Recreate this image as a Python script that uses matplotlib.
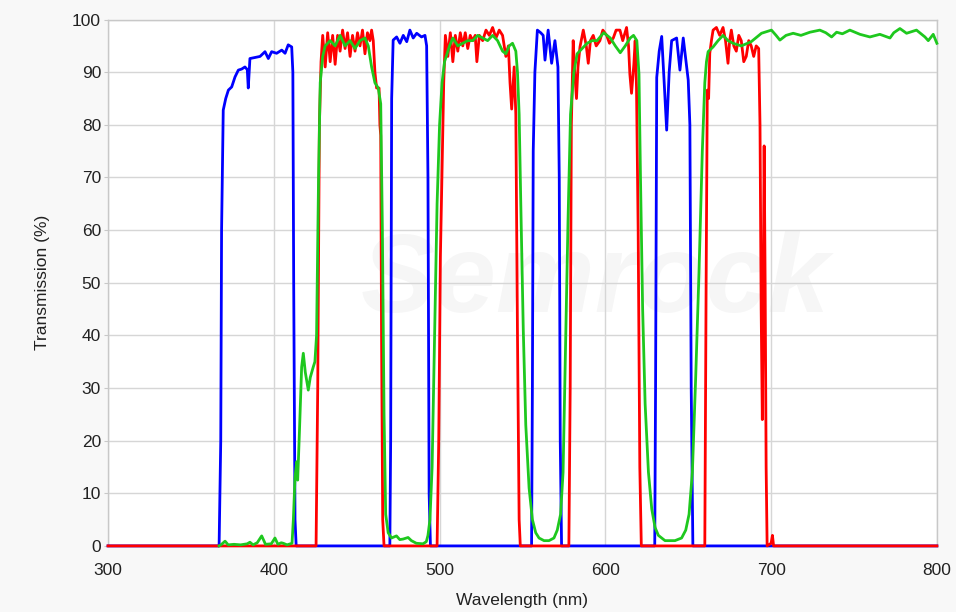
#!/usr/bin/env python3
"""
Filter transmission spectra (three multiband filters)
blue / red / green curves, 300-800 nm
"""

import numpy as np
import matplotlib
matplotlib.use('Agg')
import matplotlib.pyplot as plt

plt.rcParams['font.family'] = ['Liberation Sans', 'DejaVu Sans']

# --- data: (wavelength nm, transmission %) ---
blue_pts = [
    (300, 0), (367, 0), (368, 20), (368.5, 60), (369.5, 82.8), (371, 85), (372.6, 86.6),
    (374.6, 87.2), (376.6, 89.1), (378.6, 90.4), (380.6, 90.6), (382.6, 91), (384, 90.5),
    (384.6, 87), (385.6, 92.6), (388.7, 92.8), (391.7, 93), (394.7, 93.9), (396.7, 92.6),
    (398.7, 93.9), (401.7, 93.6), (404.8, 94.2), (406.8, 93.6), (408.7, 95.2), (410.8, 94.8),
    (411.5, 90), (412, 50), (412.8, 5), (413.5, 0),
    (470, 0), (470.5, 20), (471.1, 85), (472, 96.1), (474.1, 96.7), (476.1, 95.5), (478.1, 97),
    (480.2, 95.8), (482.1, 98), (484.1, 96.5), (486.2, 97.4), (489.1, 96.7), (491.2, 97),
    (492.2, 95), (493, 70), (493.7, 10), (494.5, 0),
    (555.5, 0), (556, 30), (556.5, 75), (557.5, 90), (559, 98), (561, 97.5), (562.5, 97),
    (563.6, 92.3), (565.5, 98), (567.6, 91.7), (569.6, 96), (571.4, 91), (572.2, 70),
    (572.8, 20), (573.6, 0),
    (629.8, 0), (630.3, 30), (631, 89), (632.5, 94), (634, 96.8), (635.5, 88), (637, 79),
    (638.5, 90), (640, 96), (643, 96.5), (645, 90.4), (647, 96.5), (650, 88.5), (651, 80),
    (651.8, 30), (652.8, 0), (800, 0),
]

red_pts = [
    (300, 0), (425.5, 0), (426.5, 30), (427.5, 80), (428.5, 92), (429.5, 97), (431, 91),
    (432.5, 97.5), (434, 92), (435.5, 97), (437, 91.5), (438.5, 97), (440, 94), (441.5, 98),
    (443, 94.5), (444.5, 97.5), (446, 93), (447.5, 97), (449, 94), (450.5, 97.5), (452, 95),
    (453.5, 98), (455, 93.5), (456.5, 97.5), (458, 96), (459, 98), (460, 96), (461, 90),
    (462, 87), (463.5, 87), (464, 80), (464.5, 78), (465, 40), (465.7, 5), (466.5, 0),
    (498.5, 0), (499.5, 20), (500.5, 55), (501.5, 72), (502.5, 88), (503.5, 97), (505, 93),
    (506.5, 97.5), (508, 92), (509.5, 97), (511, 94), (512.5, 97.5), (514, 95), (515.5, 97.5),
    (517, 94.5), (518.5, 97), (520, 96), (521.5, 97), (522.5, 92), (524, 97), (526, 96),
    (528, 98), (530, 97), (532, 98.5), (534, 96.5), (536, 98), (538, 97), (540, 93),
    (541.5, 95), (542.5, 88), (543.5, 83), (545, 91), (546, 82), (547, 40), (548, 5), (548.7, 0),
    (578, 0), (578.8, 30), (579.5, 80), (580.6, 96), (581.5, 90), (582.6, 85), (583.5, 91),
    (584.7, 94.8), (586.7, 98), (588.5, 95), (589.7, 91.7), (591, 96), (592.7, 97),
    (594.5, 95), (596.7, 96), (598.5, 98), (600.8, 97), (602.5, 95.5), (604.8, 96.5),
    (606.5, 98), (608.8, 98), (610.5, 96), (612.8, 98.5), (614, 95), (614.8, 89.6),
    (615.8, 86), (617.2, 91.5), (618, 96), (618.8, 87), (619.8, 60), (620.8, 15), (621.7, 0),
    (660, 0), (660.8, 50), (661.5, 86.6), (662.3, 85), (663, 93.6), (664, 96), (665, 98),
    (667, 98.5), (669, 97), (671, 98.5), (672.5, 96), (674, 91.7), (675, 96), (676, 98),
    (677.5, 95), (679, 94), (680.5, 97), (682, 96), (683.5, 92), (685, 93), (686.5, 96),
    (688, 95), (689.5, 93), (691, 95), (692.5, 94.5), (693.3, 80), (694, 45), (694.7, 24),
    (695.2, 45), (695.8, 76), (696.4, 50), (697, 15), (697.6, 0), (700, 0.5), (700.8, 2),
    (701.5, 0), (800, 0),
]

green_pts = [
    (367, 0), (368.5, 0.3), (370.6, 0.9), (372.5, 0.2), (376, 0.3), (380, 0.2), (384, 0.4),
    (385.6, 0.7), (387.5, 0.2), (390, 0.6), (392.7, 1.9), (395, 0.3), (398.5, 0.4),
    (400.7, 1.5), (402.5, 0.3), (404.5, 0.6), (405.7, 0.5), (408, 0.2), (411, 0.5),
    (411.8, 5), (412.8, 13), (413.8, 16), (414.4, 12.5), (415.5, 22), (416.8, 34),
    (417.8, 36.6), (419, 33), (420.8, 29.6), (422, 32), (423.8, 34), (424.8, 35), (425.8, 40),
    (427, 70), (428, 88), (429.5, 93), (431, 95), (434, 96), (437, 95), (440, 97), (443, 95),
    (446, 96), (449, 94.5), (452, 96), (455, 96.5), (457, 95), (459, 91), (461, 88), (463, 87),
    (464.5, 84), (465.5, 60), (466.5, 25), (467.5, 6), (469, 2.5), (471, 1.5), (474, 1.9),
    (476, 1.2), (478, 1.3), (481, 1.6), (483, 1), (486, 0.5), (490, 0.4), (492, 0.8), (493, 2),
    (494.2, 5), (495.5, 15), (497, 40), (498.5, 65), (500, 80), (501.5, 88), (503, 92),
    (506, 95), (508, 96.5), (511, 95), (514, 95.5), (517, 96), (520, 96), (523, 97),
    (526, 96.5), (529, 96), (532, 97), (535, 96), (538, 94), (540, 93.5), (542, 95),
    (544, 95.5), (546, 94), (547, 90), (548, 82), (549, 65), (550.5, 41), (552, 23),
    (554, 11), (556, 5), (558, 2.5), (560, 1.5), (563, 1), (566, 1), (569, 1.5), (571, 3),
    (573, 6), (574.5, 14), (576, 38), (577.5, 62), (579, 82), (581, 90), (583, 93.5),
    (586, 94.5), (589, 95.5), (592, 96), (595, 96), (599, 97.5), (603, 96.5), (606, 95),
    (609, 93.7), (612, 95), (615, 96.5), (617, 97), (619, 96), (620.3, 89.6), (621.2, 70),
    (622.5, 45), (624, 27), (626, 14), (628, 7), (630, 3.5), (632, 2), (636, 1), (642, 1),
    (646, 1.5), (648.5, 3), (650.5, 6), (652.5, 14), (654.5, 32), (656.5, 52), (658.5, 75),
    (660, 88), (661, 92), (662, 93.9), (665, 94.8), (668, 96), (671, 97), (674, 96),
    (677, 95.5), (682, 95), (688, 95.8), (694.2, 97.4), (700.2, 98), (703, 97), (705.3, 96.1),
    (709, 97), (713.3, 97.4), (718, 97), (723.4, 97.6), (729.4, 98), (733, 97.5),
    (736.5, 96.7), (739.5, 97.6), (743, 97.3), (747.5, 98), (753.6, 97.2), (759.6, 96.7),
    (765.6, 97.2), (771.7, 96.5), (774, 97.5), (777.7, 98.3), (781.7, 97.4), (787.7, 98),
    (792.8, 96.7), (794.8, 96), (797.8, 97.2), (800, 95.5),
]

x_ticks = [300, 400, 500, 600, 700, 800]
y_ticks = list(range(0, 101, 10))


def main():
    fig = plt.figure(figsize=(9.56, 6.12), dpi=100, facecolor='#f8f8f8')
    ax = fig.add_axes([0.113, 0.108, 0.867, 0.860])
    ax.set_facecolor('white')

    # ウォーターマーク
    ax.text(594, 50, 'Semrock', fontsize=80, fontweight='bold', style='italic',
            color='#000000', alpha=0.035, ha='center', va='center', zorder=0)

    series = [(blue_pts, '#0000ff'), (red_pts, '#ff0000'), (green_pts, '#1ec81e')]
    for i, (pts, col) in enumerate(series):
        arr = np.array(pts, dtype=float)
        ax.plot(arr[:, 0], arr[:, 1], color=col, linewidth=2.0, clip_on=False,
                solid_joinstyle='round', zorder=3 + i)

    ax.set_xlim(300, 800)
    ax.set_ylim(0, 100)
    ax.set_xticks(x_ticks)
    ax.set_yticks(y_ticks)
    ax.grid(True, color='#d6d6d6', linewidth=1.0, zorder=1)
    ax.set_axisbelow(True)
    for s in ax.spines.values():
        s.set_color('#c8c8c8')
        s.set_linewidth(1.0)

    ax.tick_params(axis='y', length=3, color='#c8c8c8', labelsize=12.5,
                   labelcolor='#222222', pad=2)
    ax.tick_params(axis='x', length=0, labelsize=12.5, labelcolor='#222222', pad=12)

    ax.set_xlabel('Wavelength (nm)', fontsize=12.5, color='#222222', labelpad=11)
    ax.set_ylabel('Transmission (%)', fontsize=12.5, color='#222222', labelpad=16)

    plt.savefig('out.png', dpi=100, facecolor=fig.get_facecolor())


if __name__ == "__main__":
    main()
